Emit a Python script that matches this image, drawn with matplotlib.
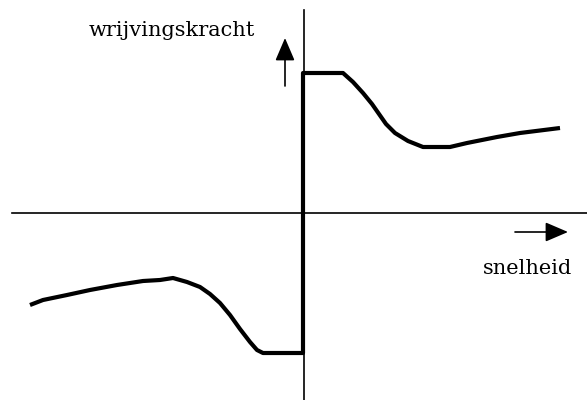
import numpy as np
import matplotlib.pyplot as plt

# friction force vs speed, drawn in screen-like units (y grows downward)
upper_x = [303, 343, 353, 363, 372, 379, 386, 395, 408, 423, 450, 467, 497, 520, 560]
upper_y = [73, 73, 82, 93, 104, 114, 124, 133, 141, 147, 147, 143, 137, 133, 128]
lower_x = [30, 43, 67, 90, 117, 143, 160, 173, 187, 200, 210, 220, 230, 240, 250, 257, 263, 303]
lower_y = [305, 300, 295, 290, 285, 281, 280, 278, 282, 287, 294, 303, 315, 329, 342, 350, 353, 353]

fig = plt.figure(figsize=(5.87, 4.0), dpi=100)
ax = fig.add_axes([0, 0, 1, 1])
ax.set_xlim(0, 587)
ax.set_ylim(400, 0)
ax.axis('off')

# axes
ax.plot([12, 587], [213, 213], color='black', lw=1.2)
ax.plot([303.5, 303.5], [10, 400], color='black', lw=1.2)

# curve: lower branch, jump at zero, upper branch
ax.plot(lower_x + upper_x, lower_y + upper_y, color='black', lw=3.0,
        solid_joinstyle='round', solid_capstyle='butt')

# small arrows next to the axis labels
ax.annotate('', xy=(285, 38), xytext=(285, 86),
            arrowprops=dict(arrowstyle='-|>,head_length=1.4,head_width=0.6',
                            color='black', lw=1.2, shrinkA=0, shrinkB=0))
ax.annotate('', xy=(568, 232), xytext=(515, 232),
            arrowprops=dict(arrowstyle='-|>,head_length=1.4,head_width=0.6',
                            color='black', lw=1.2, shrinkA=0, shrinkB=0))

ax.text(172, 30, 'wrijvingskracht', family='DejaVu Serif', fontsize=15,
        ha='center', va='center')
ax.text(528, 268, 'snelheid', family='DejaVu Serif', fontsize=15,
        ha='center', va='center')

fig.savefig('out.png', dpi=100)
